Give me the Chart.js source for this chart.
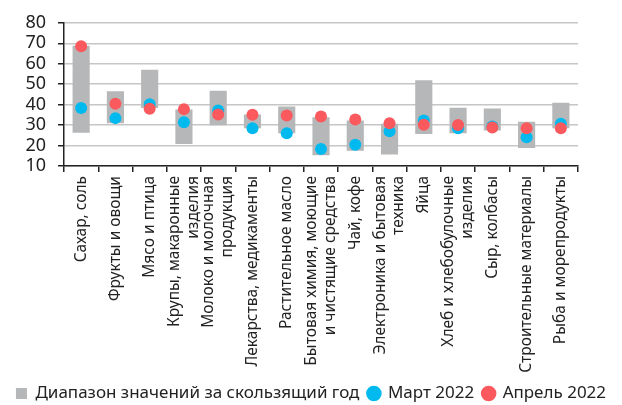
<!DOCTYPE html>
<html>
<head>
<meta charset="utf-8">
<script src="https://cdn.jsdelivr.net/npm/chart.js@4"></script>
<style>
  html, body { margin: 0; padding: 0; background: #fff; }
</style>
</head>
<body>
<canvas id="chart" width="622" height="405"></canvas>
<script>
// categories (multi-line labels as arrays)
const categories = [
  'Сахар, соль',
  'Фрукты и овощи',
  'Мясо и птица',
  ['Крупы, макаронные', 'изделия'],
  ['Молоко и молочная', 'продукция'],
  'Лекарства, медикаменты',
  'Растительное масло',
  ['Бытовая химия, моющие', 'и чистящие средства'],
  'Чай, кофе',
  ['Электроника и бытовая', 'техника'],
  'Яйца',
  ['Хлеб и хлебобулочные', 'изделия'],
  'Сыр, колбасы',
  'Строительные материалы',
  'Рыба и морепродукты'
];

// range over the rolling year
const rangeLow  = [26.2, 30.9, 38.3, 20.7, 29.9, 28.4, 26.0, 15.3, 17.4, 15.6, 25.7, 26.0, 27.3, 18.8, 28.4];
const rangeHigh = [68.8, 46.5, 57.0, 37.6, 46.8, 35.2, 39.1, 33.8, 32.2, 30.6, 51.9, 38.5, 38.1, 31.6, 40.9];

const march2022 = [38.3, 33.4, 40.2, 31.4, 37.1, 28.4, 26.0, 18.3, 20.4, 27.0, 32.2, 28.4, 29.3, 24.0, 30.6];
const april2022 = [68.5, 40.4, 38.0, 37.8, 35.2, 35.0, 34.7, 34.2, 32.7, 30.9, 30.2, 30.0, 28.8, 28.4, 28.4];

const FONT = '"Noto Sans", sans-serif';

// center multi-line rotated labels on their tick (chart.js puts the first line on the tick)
const centerMultiline = {
  id: 'centerMultiline',
  beforeDraw(chart) {
    const items = chart.scales.x.getLabelItems();
    items.forEach(it => {
      if (Array.isArray(it.label) && !it._shifted) {
        it.options.translation[0] -= (it.label.length - 1) * it.font.lineHeight / 2;
        it._shifted = true;
      }
    });
  }
};

const ctx = document.getElementById('chart');
const chart = new Chart(ctx, {
  data: {
    labels: categories,
    datasets: [
      {
        type: 'bar',
        label: 'Диапазон значений за скользящий год',
        data: rangeLow.map((lo, i) => [lo, rangeHigh[i]]),
        backgroundColor: '#b6b7b8',
        borderWidth: 0,
        barPercentage: 0.5,
        categoryPercentage: 1,
        pointStyle: 'rect',
        order: 3,
      },
      {
        type: 'line',
        label: 'Март 2022',
        data: march2022,
        showLine: false,
        pointRadius: 6,
        pointBackgroundColor: '#00b9ef',
        pointBorderWidth: 0,
        backgroundColor: '#00b9ef',
        borderColor: '#00b9ef',
        pointStyle: 'circle',
        order: 2,
      },
      {
        type: 'line',
        label: 'Апрель 2022',
        data: april2022,
        showLine: false,
        pointRadius: 6,
        pointBackgroundColor: '#fa5a5e',
        pointBorderWidth: 0,
        backgroundColor: '#fa5a5e',
        borderColor: '#fa5a5e',
        pointStyle: 'circle',
        order: 1,
      },
    ],
  },
  options: {
    responsive: false,
    animation: false,
    layout: {
      padding: { top: 14, left: 0, right: 0, bottom: -7 },
    },
    scales: {
      x: {
        offset: true,
        grid: {
          offset: true,
          drawOnChartArea: false,
          drawTicks: true,
          tickLength: 6,
          tickColor: '#222',
          lineWidth: 1.5,
        },
        border: { color: '#222', width: 1.5 },
        ticks: {
          minRotation: 90,
          maxRotation: 90,
          autoSkip: false,
          padding: 4,
          color: '#222',
          font: { family: FONT, size: 15.5 },
        },
        afterFit: (scale) => { scale.height = 210; },
      },
      y: {
        min: 10,
        max: 80,
        grid: {
          color: '#c6c6c6',
          lineWidth: 1.5,
          tickColor: '#222',
          tickLength: 6,
        },
        border: { color: '#222', width: 1.5 },
        ticks: {
          stepSize: 10,
          autoSkip: false,
          padding: 12,
          color: '#222',
          font: { family: FONT, size: 18 },
        },
        afterFit: (scale) => { scale.width = 64; },
      },
      // empty box on the right to leave room like the original
      yRight: {
        position: 'right',
        display: true,
        grid: { display: false, drawTicks: false },
        border: { display: false },
        ticks: { display: false },
        afterFit: (scale) => { scale.width = 44; },
      },
    },
    plugins: {
      tooltip: { enabled: false },
      legend: {
        position: 'bottom',
        labels: {
          usePointStyle: true,
          boxWidth: 11,
          boxHeight: 11,
          padding: 9,
          color: '#222',
          font: { family: FONT, size: 17 },
          sort: (a, b) => a.datasetIndex - b.datasetIndex,
        },
      },
    },
  },
  plugins: [centerMultiline],
});
</script>
</body>
</html>
